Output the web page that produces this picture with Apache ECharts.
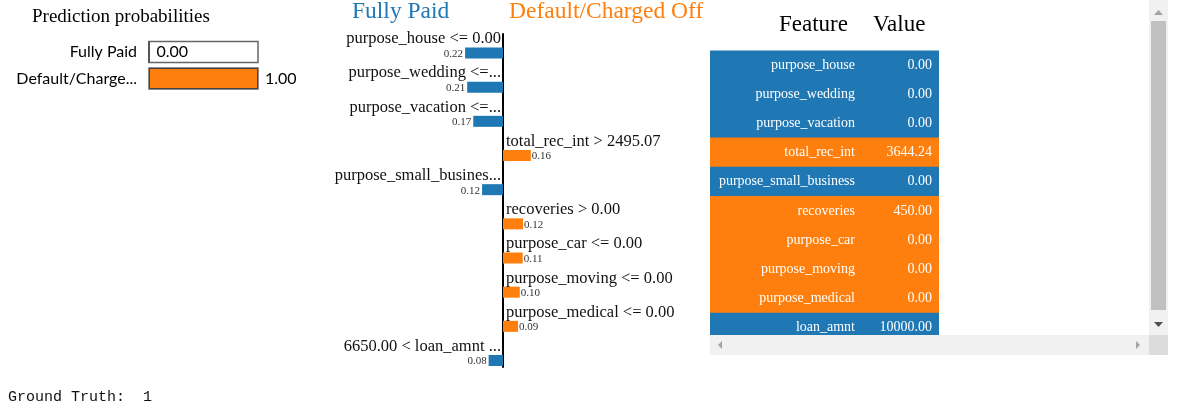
<!DOCTYPE html>
<html>
<head>
<meta charset="utf-8">
<script src="https://cdn.jsdelivr.net/npm/echarts@6/dist/echarts.min.js"></script>
<style>
  html, body { margin: 0; padding: 0; background: #ffffff; }
  #chart { width: 1177px; height: 412px; }
</style>
</head>
<body>
<div id="chart"></div>
<script>
// ---- data ----
var probClasses = ['Fully Paid', 'Default/Charge...'];
var probValues = [0.00, 1.00];

// explanation weights (negative = Fully Paid, positive = Default/Charged Off)
var featureConditions = [
  'purpose_house <= 0.00',
  'purpose_wedding <=...',
  'purpose_vacation <=...',
  'total_rec_int > 2495.07',
  'purpose_small_busines...',
  'recoveries > 0.00',
  'purpose_car <= 0.00',
  'purpose_moving <= 0.00',
  'purpose_medical <= 0.00',
  '6650.00 < loan_amnt ...'
];
var featureWeights = [-0.219, -0.207, -0.172, 0.161, -0.121, 0.116, 0.114, 0.097, 0.087, -0.083];

var tableFeatures = ['purpose_house', 'purpose_wedding', 'purpose_vacation', 'total_rec_int',
  'purpose_small_business', 'recoveries', 'purpose_car', 'purpose_moving', 'purpose_medical', 'loan_amnt'];
var tableValues = [0.00, 0.00, 0.00, 3644.24, 0.00, 450.00, 0.00, 0.00, 0.00, 10000.00];

var groundTruth = 1;

// ---- styles ----
var BLUE = '#1f77b4', ORANGE = '#ff7f0e';
var SERIF = "'Liberation Serif', 'Times New Roman', serif";
var SANS = "Lato, 'Liberation Sans', Arial, sans-serif";
var MONO = "'Liberation Mono', 'DejaVu Sans Mono', monospace";

var blueData = featureWeights.map(function (w) { return w < 0 ? w : '-'; });
var orangeData = featureWeights.map(function (w) { return w > 0 ? w : '-'; });
var rowColor = featureWeights.map(function (w) { return w < 0 ? BLUE : ORANGE; });

var chart = echarts.init(document.getElementById('chart'), null, { renderer: 'canvas' });

var barLen = 11;
var option = {
  animation: false,
  backgroundColor: '#ffffff',
  grid: [
    { left: 149, width: 109, top: 38.75, height: 53, outerBoundsMode: 'none', containLabel: false },
    { left: 330, width: 346, top: 35.9, height: 341.7, outerBoundsMode: 'none', containLabel: false },
    { left: 710, width: 229, top: 50.4, height: 292, outerBoundsMode: 'none', containLabel: false },
    { left: 330, width: 346, top: 34, height: 333, outerBoundsMode: 'none', containLabel: false }
  ],
  xAxis: [
    { gridIndex: 0, type: 'value', min: 0, max: 1, show: false },
    { gridIndex: 1, type: 'value', min: -1, max: 1, show: false },
    { gridIndex: 2, type: 'value', min: 0, max: 1, show: false },
    { gridIndex: 3, type: 'value', min: -1, max: 1, show: false }
  ],
  yAxis: [
    { gridIndex: 0, type: 'category', inverse: true, data: probClasses,
      axisLine: { show: false }, axisTick: { show: false }, splitLine: { show: false },
      axisLabel: { margin: 12, color: '#000', fontFamily: SANS, fontSize: 16 } },
    { gridIndex: 1, type: 'category', inverse: true, data: featureConditions,
      axisLine: { show: false }, axisTick: { show: false }, axisLabel: { show: false }, splitLine: { show: false } },
    { gridIndex: 2, type: 'category', inverse: true, data: tableFeatures, show: false },
    { gridIndex: 3, type: 'value', min: 0, max: 1,
      axisLine: { show: true, onZero: true, lineStyle: { color: '#000', width: 2 } },
      axisTick: { show: false }, axisLabel: { show: false }, splitLine: { show: false } }
  ],
  series: [
    // prediction probabilities
    { type: 'bar', xAxisIndex: 0, yAxisIndex: 0, barWidth: 21, silent: true,
      data: probValues.map(function (v, i) {
        return { value: v, itemStyle: { color: i === 0 ? BLUE : ORANGE } };
      }),
      itemStyle: { borderColor: '#444', borderWidth: 1 },
      showBackground: true,
      backgroundStyle: { color: '#ffffff', borderColor: '#666', borderWidth: 1.5 },
      label: { show: true, position: 'right', distance: 7, color: '#000', fontFamily: SANS, fontSize: 16,
        formatter: function (p) { return p.value.toFixed(2); } }
    },
    // explanation bars: Fully Paid side
    { type: 'bar', xAxisIndex: 1, yAxisIndex: 1, barWidth: barLen, barGap: '-100%', silent: true,
      data: blueData, itemStyle: { color: BLUE },
      label: { show: true, position: 'left', distance: 2, offset: [0, 1], color: '#333',
        fontFamily: SERIF, fontSize: 11,
        formatter: function (p) { return Math.abs(p.value).toFixed(2); } }
    },
    // explanation bars: Default side
    { type: 'bar', xAxisIndex: 1, yAxisIndex: 1, barWidth: barLen, barGap: '-100%', silent: true,
      data: orangeData, itemStyle: { color: ORANGE },
      label: { show: true, position: 'right', distance: 1, offset: [0, 1], color: '#333',
        fontFamily: SERIF, fontSize: 11,
        formatter: function (p) { return Math.abs(p.value).toFixed(2); } }
    },
    // condition names (transparent overlays)
    { type: 'bar', xAxisIndex: 1, yAxisIndex: 1, barWidth: barLen, barGap: '-100%', silent: true,
      data: blueData, itemStyle: { color: 'rgba(0,0,0,0)' },
      label: { show: true, position: 'insideRight', distance: 2, offset: [0, -14], color: '#111',
        fontFamily: SERIF, fontSize: 16.5,
        formatter: function (p) { return featureConditions[p.dataIndex]; } }
    },
    { type: 'bar', xAxisIndex: 1, yAxisIndex: 1, barWidth: barLen, barGap: '-100%', silent: true,
      data: orangeData, itemStyle: { color: 'rgba(0,0,0,0)' },
      label: { show: true, position: 'insideLeft', distance: 3, offset: [0, -14], color: '#111',
        fontFamily: SERIF, fontSize: 16.5,
        formatter: function (p) { return featureConditions[p.dataIndex]; } }
    },
    // feature/value table: row backgrounds with feature names
    { type: 'bar', xAxisIndex: 2, yAxisIndex: 2, barWidth: 30, barGap: '-100%', silent: true,
      data: tableFeatures.map(function (f, i) {
        return { value: 1, itemStyle: { color: rowColor[i] } };
      }),
      label: { show: true, position: 'insideRight', distance: 84, color: '#fff', fontFamily: SERIF, fontSize: 14,
        formatter: function (p) { return tableFeatures[p.dataIndex]; } }
    },
    // values column (transparent overlay)
    { type: 'bar', xAxisIndex: 2, yAxisIndex: 2, barWidth: 30, barGap: '-100%', silent: true,
      data: tableValues.map(function () { return 1; }),
      itemStyle: { color: 'rgba(0,0,0,0)' },
      label: { show: true, position: 'insideRight', distance: 7, color: '#fff', fontFamily: SERIF, fontSize: 14,
        formatter: function (p) { return tableValues[p.dataIndex].toFixed(2); } }
    }
  ],
  graphic: [
    { type: 'text', left: 32, top: 8, z: 100, style: { text: 'Prediction probabilities', fill: '#000', font: '19px ' + SERIF } },
    { type: 'text', left: 352, top: -0.5, z: 100, style: { text: 'Fully Paid', fill: BLUE, font: '23.5px ' + SERIF } },
    { type: 'text', left: 509, top: -0.5, z: 100, style: { text: 'Default/Charged Off', fill: ORANGE, font: '23.5px ' + SERIF } },
    { type: 'text', left: 779, top: 13, z: 100, style: { text: 'Feature', fill: '#000', font: '23px ' + SERIF } },
    { type: 'text', left: 873, top: 13, z: 100, style: { text: 'Value', fill: '#000', font: '23px ' + SERIF } },
    { type: 'text', left: 8, top: 390, z: 100, style: { text: 'Ground Truth:  ' + groundTruth, fill: '#111', font: '15px ' + MONO } },
    // scroll container chrome
    { type: 'rect', z: 100, shape: { x: 1149, y: 0, width: 19, height: 335 }, style: { fill: '#f1f1f1' } },
    { type: 'polygon', z: 101, shape: { points: [[1154, 15], [1163, 15], [1158.5, 10]] }, style: { fill: '#a3a3a3' } },
    { type: 'rect', z: 101, shape: { x: 1151, y: 21, width: 15, height: 289 }, style: { fill: '#c1c1c1' } },
    { type: 'polygon', z: 101, shape: { points: [[1154, 322], [1163, 322], [1158.5, 327]] }, style: { fill: '#505050' } },
    { type: 'rect', z: 100, shape: { x: 710, y: 335, width: 439, height: 20 }, style: { fill: '#f1f1f1' } },
    { type: 'polygon', z: 101, shape: { points: [[722, 341], [722, 349], [718, 345]] }, style: { fill: '#a3a3a3' } },
    { type: 'polygon', z: 101, shape: { points: [[1136, 341], [1136, 349], [1140, 345]] }, style: { fill: '#a3a3a3' } },
    { type: 'rect', z: 100, shape: { x: 1149, y: 335, width: 19, height: 20 }, style: { fill: '#dcdcdc' } }
  ]
};
chart.setOption(option);
</script>
</body>
</html>
